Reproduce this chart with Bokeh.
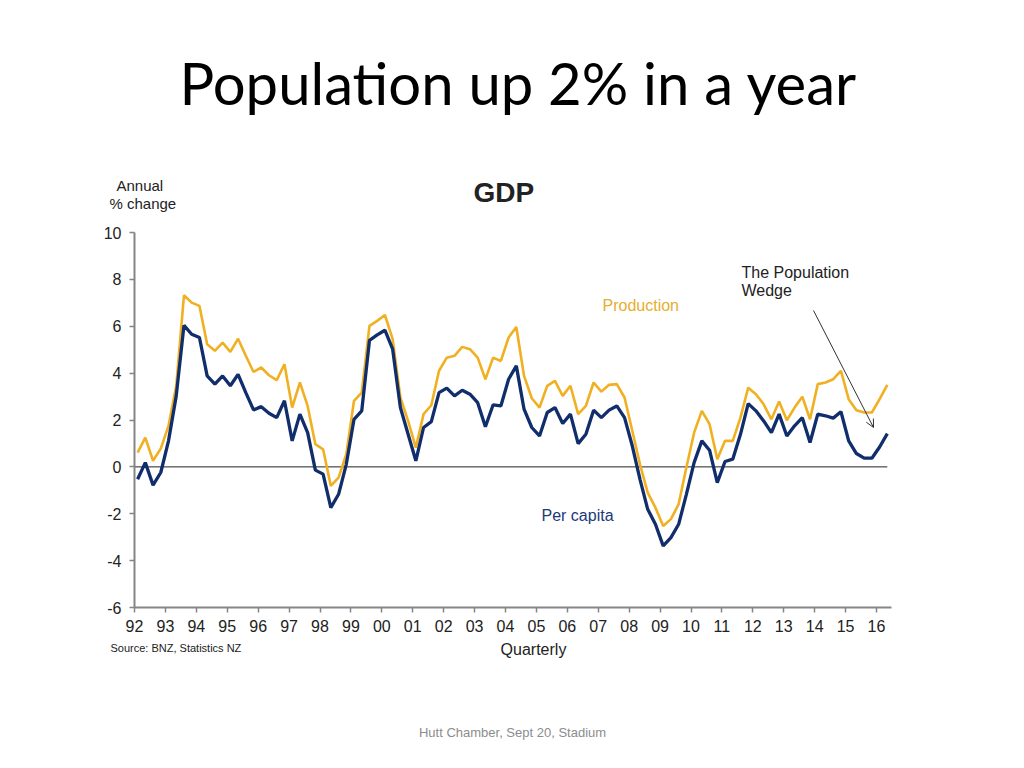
from bokeh.plotting import figure
from bokeh.models import Label, Arrow, OpenHead, FixedTicker, Range1d, LinearAxis
from bokeh.embed import file_html
from bokeh.resources import INLINE

# ---- data (annual % change, quarterly, 1992Q1 - 2016Q2) ----
start_year = 1992
production = [0.61, 1.25, 0.26, 0.78, 1.75, 3.46, 7.32, 7.01, 6.87, 5.23,
              4.95, 5.30, 4.91, 5.47, 4.74, 4.05, 4.24, 3.91, 3.70, 4.38,
              2.53, 3.60, 2.60, 0.97, 0.75, -0.81, -0.46, 0.54, 2.82, 3.17,
              6.02, 6.23, 6.48, 5.45, 2.96, 1.96, 0.82, 2.25, 2.63, 4.10,
              4.66, 4.74, 5.12, 5.02, 4.66, 3.74, 4.66, 4.52, 5.52, 5.97,
              3.88, 2.93, 2.53, 3.46, 3.67, 3.03, 3.46, 2.25, 2.60, 3.60,
              3.21, 3.50, 3.53, 2.96, 1.54, 0.11, -1.10, -1.74, -2.52, -2.23,
              -1.59, -0.03, 1.46, 2.39, 1.82, 0.33, 1.11, 1.11, 2.10, 3.38,
              3.10, 2.67, 2.03, 2.79, 1.99, 2.53, 2.99, 2.03, 3.53, 3.60,
              3.74, 4.10, 2.89, 2.42, 2.32, 2.32, 2.89, 3.50]
per_capita = [-0.53, 0.18, -0.78, -0.24, 1.11, 3.03, 6.04, 5.66, 5.52, 3.88,
              3.53, 3.88, 3.46, 3.95, 3.17, 2.43, 2.57, 2.29, 2.10, 2.82,
              1.11, 2.25, 1.46, -0.14, -0.31, -1.74, -1.17, 0.11, 2.03, 2.39,
              5.40, 5.63, 5.83, 5.02, 2.53, 1.39, 0.26, 1.68, 1.93, 3.17,
              3.36, 3.03, 3.27, 3.10, 2.74, 1.71, 2.65, 2.60, 3.74, 4.31,
              2.46, 1.68, 1.32, 2.32, 2.53, 1.85, 2.25, 0.99, 1.39, 2.42,
              2.10, 2.42, 2.60, 2.10, 0.90, -0.53, -1.81, -2.45, -3.37, -3.02,
              -2.45, -1.17, 0.18, 1.11, 0.71, -0.67, 0.23, 0.33, 1.39, 2.70,
              2.39, 1.96, 1.46, 2.25, 1.32, 1.75, 2.10, 1.04, 2.25, 2.18,
              2.08, 2.35, 1.11, 0.57, 0.37, 0.37, 0.85, 1.42]
x_tick_years = list(range(1992, 2017))
x_tick_labels = ["92", "93", "94", "95", "96", "97", "98", "99", "00", "01",
                 "02", "03", "04", "05", "06", "07", "08", "09", "10", "11",
                 "12", "13", "14", "15", "16"]
y_ticks = [-6, -4, -2, 0, 2, 4, 6, 8, 10]
y_tick_labels = ["-6", "-4", "-2", "0", "2", "4", "6", "8", "10"]

quarters = [start_year + 0.1 + 0.25 * i for i in range(len(production))]

GOLD = "#F0B022"
NAVY = "#102D6C"
AXIS = "#858585"
FONT = "Liberation Sans"

W, H = 1024, 768
# chart area in page pixels
FL, FR, FT, FB = 134, 891, 232, 607
PX_YEAR = 30.917
PX_UNIT = (FB - FT) / 16.0
X_END = 1992 + (FR - FL) / PX_YEAR

# the frame covers the whole canvas so that all texts can sit anywhere
p = figure(width=W, height=H, output_backend="svg", toolbar_location=None,
           x_range=Range1d(1992 - FL / PX_YEAR, 1992 + (W - FL) / PX_YEAR),
           y_range=Range1d(10 - (H - FT) / PX_UNIT, 10 + FT / PX_UNIT),
           min_border=0, x_axis_location=None, y_axis_location=None)
p.outline_line_color = None
p.grid.visible = False
p.background_fill_color = "white"
p.border_fill_color = "white"

def dx(px):
    return 1992 + (px - FL) / PX_YEAR

def dy(py):
    return 10 - (py - FT) / PX_UNIT

# axes fixed at the chart's corner
xax = LinearAxis(fixed_location=-6, bounds=(1992, X_END),
                 ticker=FixedTicker(ticks=x_tick_years),
                 major_label_overrides={y: l for y, l in zip(x_tick_years, x_tick_labels)})
yax = LinearAxis(fixed_location=1992, bounds=(-6, 10),
                 ticker=FixedTicker(ticks=y_ticks),
                 major_label_overrides={y: l for y, l in zip(y_ticks, y_tick_labels)})
for ax in (xax, yax):
    ax.axis_line_color = AXIS
    ax.axis_line_width = 2
    ax.major_tick_line_color = AXIS
    ax.major_tick_line_width = 1.5
    ax.major_tick_in = 0
    ax.major_tick_out = 5
    ax.minor_tick_line_color = None
    ax.major_label_text_font = FONT
    ax.major_label_text_font_size = "16px"
    ax.major_label_text_color = "#222222"
xax.major_label_standoff = 7
yax.major_label_standoff = 8
p.add_layout(xax, "below")
p.add_layout(yax, "left")

# zero line
p.segment(x0=[1992], y0=[0], x1=[quarters[-1]], y1=[0], line_color="#222222", line_width=1)

# series
p.line(quarters, production, line_color=GOLD, line_width=2.6)
p.line(quarters, per_capita, line_color=NAVY, line_width=3.3)

def lab(text, px, py, size, color="#222222", align="left", style="normal", font=FONT):
    # py is the wanted baseline in page pixels; compensate the rendered offset
    py_adj = py - 0.38 * size
    p.add_layout(Label(x=dx(px), y=dy(py_adj), text=text, text_font=font,
                       text_font_size=f"{size}px", text_color=color, text_align=align,
                       text_baseline="alphabetic", text_font_style=style))

# slide title
lab("Population up 2% in a year", 518, 104, 58, "#000000", "center", font="Lato")
# chart texts
lab("GDP", 473, 203, 28, "#222222", "left", "bold")
lab("Annual", 116, 191, 15)
lab("% change", 109, 209, 15)
lab("Production", 602, 311, 16, "#E5AE2F")
lab("Per capita", 541, 521, 16, "#1C3A78")
lab("The Population", 741, 278, 16)
lab("Wedge", 741, 296, 16)
lab("Quarterly", 533, 655, 16, "#222222", "center")
lab("Source: BNZ, Statistics NZ", 110, 652, 11)
lab("Hutt Chamber, Sept 20, Stadium", 512, 737, 13, "#8c8c8c", "center")

# arrow
p.add_layout(Arrow(x_start=dx(813), y_start=dy(310), x_end=dx(873), y_end=dy(427),
                   line_color="#333333", line_width=1,
                   end=OpenHead(size=8, line_color="#333333", line_width=1)))

open("out.html", "w").write(file_html(p, INLINE))
